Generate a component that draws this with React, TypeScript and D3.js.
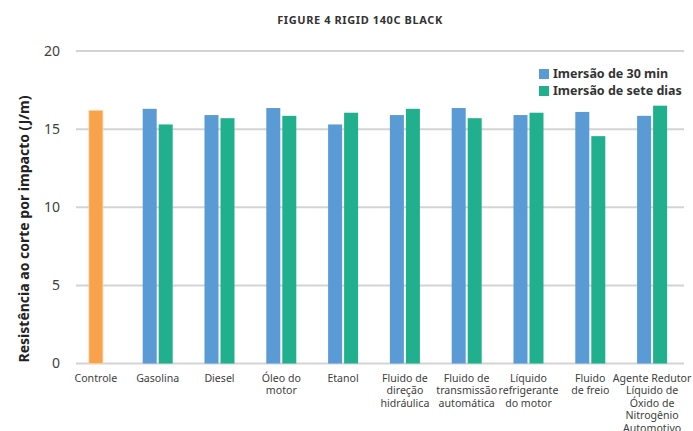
import React from "react";
import * as d3 from "d3";

// Categories (tick labels, pre-wrapped into lines)
const categories: string[] = [
  "Controle",
  "Gasolina",
  "Diesel",
  "Óleo do\nmotor",
  "Etanol",
  "Fluido de\ndireção\nhidráulica",
  "Fluido de\ntransmissão\nautomática",
  "Líquido\nrefrigerante\ndo motor",
  "Fluido\nde freio",
  "Agente Redutor\nLíquido de\nÓxido de\nNitrogênio\nAutomotivo",
];

// Control value (single bar)
const controlValue = 16.2;

// Series values (null for the control category)
const thirtyMin: (number | null)[] = [null, 16.3, 15.9, 16.35, 15.3, 15.9, 16.35, 15.9, 16.1, 15.85];
const sevenDays: (number | null)[] = [null, 15.3, 15.7, 15.85, 16.05, 16.3, 15.7, 16.05, 14.55, 16.5];

const seriesNames = ["Imersão de 30 min", "Imersão de sete dias"];
const yTicks = [0, 5, 10, 15, 20];

const W = 693;
const H = 431;
const FONT = "'Noto Sans', 'Open Sans', sans-serif";
const BLUE = "#5B9BD5";
const GREEN = "#21B08E";
const ORANGE = "#F8A34B";
const GRID = "#D4D4D4";
const TEXT = "#404040";

export default function App() {
  const x = d3.scaleBand<string>().domain(categories).range([65, 683]).paddingInner(0).paddingOuter(0);
  const y = d3.scaleLinear().domain([0, 20]).range([363.5, 51]);
  const barW = 14;
  const gap = 2;
  const gridX0 = 76;
  const gridX1 = 684;

  return (
    <svg
      width={W}
      height={H}
      style={{ position: "fixed", left: 0, top: 0, background: "#fff" }}
      fontFamily={FONT}
    >
      <rect x={0} y={0} width={W} height={H} fill="#fff" />
      {/* Title */}
      <text x={360} y={24} textAnchor="middle" fontSize={11} letterSpacing={0.6} fontWeight={700} fill="#333">
        FIGURE 4 RIGID 140C BLACK
      </text>

      {/* Gridlines and y ticks */}
      {yTicks.map((t) => (
        <g key={t}>
          <line x1={gridX0} x2={gridX1} y1={y(t)} y2={y(t)} stroke={GRID} strokeWidth={2} />
          <text x={60} y={y(t)} dy="0.35em" textAnchor="end" fontSize={14} fill={TEXT}>
            {t}
          </text>
        </g>
      ))}

      {/* Y axis title */}
      <text
        transform={`translate(29,229) rotate(-90)`}
        textAnchor="middle"
        fontSize={14}
        fontWeight={700}
        fill="#222"
      >
        Resistência ao corte por impacto (J/m)
      </text>

      {/* Bars */}
      {categories.map((c, i) => {
        const cx = (x(c) as number) + x.bandwidth() / 2;
        if (i === 0) {
          return (
            <rect
              key={c}
              x={cx - barW / 2}
              y={y(controlValue)}
              width={barW}
              height={y(0) - y(controlValue)}
              fill={ORANGE}
              stroke="#FAD2A6"
              strokeWidth={0.8}
            />
          );
        }
        const a = thirtyMin[i] as number;
        const b = sevenDays[i] as number;
        return (
          <g key={c}>
            <rect x={cx - gap / 2 - barW} y={y(a)} width={barW} height={y(0) - y(a)} fill={BLUE} />
            <rect x={cx + gap / 2} y={y(b)} width={barW} height={y(0) - y(b)} fill={GREEN} />
          </g>
        );
      })}

      {/* X tick labels */}
      {categories.map((c) => {
        const cx = (x(c) as number) + x.bandwidth() / 2;
        return (
          <text key={c} x={cx} y={382} textAnchor="middle" fontSize={10.6} fill={TEXT}>
            {c.split("\n").map((line, k) => (
              <tspan key={k} x={cx} dy={k === 0 ? 0 : 12.4}>
                {line}
              </tspan>
            ))}
          </text>
        );
      })}

      {/* Legend */}
      {seriesNames.map((s, i) => (
        <g key={s} transform={`translate(539,${69 + i * 17})`}>
          <rect x={0} y={0} width={10} height={10} fill={i === 0 ? BLUE : GREEN} />
          <text x={14} y={5} dy="0.35em" fontSize={12.5} fontWeight={700} fill="#333">
            {s}
          </text>
        </g>
      ))}
    </svg>
  );
}
